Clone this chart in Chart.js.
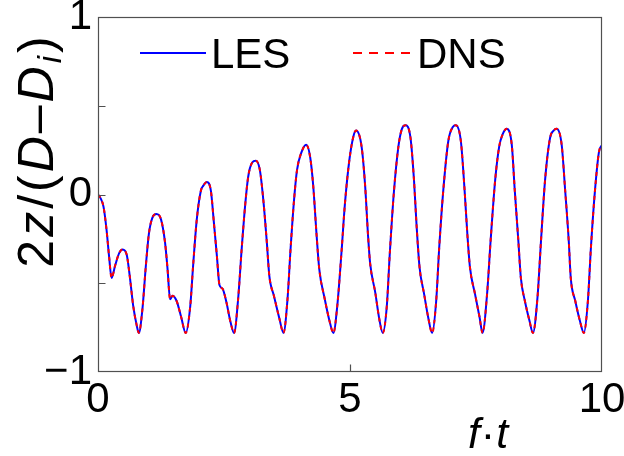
<!DOCTYPE html>
<html>
<head>
<meta charset="utf-8">
<script src="https://cdn.jsdelivr.net/npm/chart.js@4/dist/chart.umd.min.js"></script>
<style>
  html, body { margin: 0; padding: 0; background: #ffffff; }
  #wrap { width: 624px; height: 456px; }
</style>
</head>
<body>
<div id="wrap"><canvas id="c" width="624" height="456"></canvas></div>
<script>
// ---- data ----
const tValues = [
  0.00, 0.05, 0.11, 0.17, 0.22, 0.27, 0.34, 0.42, 0.49, 0.57, 0.63, 0.70, 0.77, 0.81,
  0.88, 0.95, 1.01, 1.08, 1.16, 1.25, 1.33, 1.38, 1.43, 1.48, 1.56, 1.65, 1.74,
  1.83, 1.89, 1.96, 2.04, 2.09, 2.16, 2.24, 2.30, 2.36, 2.41, 2.47, 2.55, 2.63, 2.70,
  2.78, 2.85, 2.92, 2.98, 3.06, 3.13, 3.21, 3.28, 3.35, 3.40, 3.49, 3.60, 3.68,
  3.76, 3.82, 3.89, 3.95, 4.04, 4.13, 4.21, 4.27, 4.34, 4.39, 4.50, 4.60, 4.67,
  4.75, 4.83, 4.90, 4.99, 5.07, 5.12, 5.23, 5.30, 5.36, 5.40, 5.50, 5.58, 5.65,
  5.73, 5.79, 5.87, 5.96, 6.03, 6.10, 6.20, 6.27, 6.32, 6.38, 6.47, 6.55, 6.63,
  6.71, 6.77, 6.85, 6.95, 7.04, 7.10, 7.20, 7.27, 7.33, 7.38, 7.48, 7.57, 7.63,
  7.72, 7.79, 7.88, 7.96, 8.03, 8.11, 8.21, 8.27, 8.34, 8.39, 8.47, 8.56, 8.63,
  8.72, 8.79, 8.87, 8.97, 9.04, 9.10, 9.20, 9.27, 9.34, 9.38, 9.47, 9.56, 9.64,
  9.72, 9.78, 9.86, 9.94, 10.00
];
const lesZ = [
  0.00, -0.02, -0.07, -0.20, -0.35, -0.47, -0.40, -0.33, -0.31, -0.34, -0.46, -0.63, -0.74, -0.78,
  -0.65, -0.40, -0.22, -0.13, -0.11, -0.14, -0.27, -0.42, -0.59, -0.57, -0.60, -0.69, -0.78,
  -0.63, -0.39, -0.14, 0.02, 0.05, 0.07, 0.02, -0.16, -0.35, -0.51, -0.53, -0.61, -0.72, -0.78,
  -0.59, -0.31, -0.06, 0.10, 0.18, 0.19, 0.14, -0.03, -0.27, -0.46, -0.57, -0.70, -0.78,
  -0.59, -0.31, -0.03, 0.14, 0.24, 0.28, 0.21, 0.05, -0.24, -0.42, -0.59, -0.72, -0.78,
  -0.62, -0.33, -0.05, 0.20, 0.33, 0.36, 0.27, 0.05, -0.24, -0.39, -0.55, -0.70, -0.78,
  -0.63, -0.33, 0.01, 0.27, 0.37, 0.39, 0.32, 0.08, -0.17, -0.41, -0.56, -0.69, -0.78,
  -0.60, -0.30, 0.02, 0.30, 0.38, 0.39, 0.30, 0.04, -0.23, -0.41, -0.56, -0.69, -0.78,
  -0.56, -0.26, 0.08, 0.27, 0.34, 0.37, 0.28, 0.02, -0.26, -0.47, -0.60, -0.71, -0.78,
  -0.58, -0.26, 0.08, 0.32, 0.36, 0.37, 0.28, 0.02, -0.26, -0.47, -0.60, -0.71, -0.78,
  -0.60, -0.30, 0.02, 0.24, 0.28
];
const dnsZ = [
  0.00, -0.02, -0.07, -0.20, -0.35, -0.47, -0.40, -0.33, -0.31, -0.34, -0.46, -0.63, -0.74, -0.78,
  -0.65, -0.40, -0.22, -0.13, -0.11, -0.14, -0.27, -0.42, -0.59, -0.57, -0.60, -0.69, -0.78,
  -0.63, -0.39, -0.14, 0.02, 0.05, 0.07, 0.02, -0.16, -0.35, -0.51, -0.53, -0.61, -0.72, -0.78,
  -0.59, -0.31, -0.06, 0.10, 0.18, 0.19, 0.14, -0.03, -0.27, -0.46, -0.57, -0.70, -0.78,
  -0.59, -0.31, -0.03, 0.14, 0.24, 0.28, 0.21, 0.05, -0.24, -0.42, -0.59, -0.72, -0.78,
  -0.62, -0.33, -0.05, 0.20, 0.33, 0.36, 0.27, 0.05, -0.24, -0.39, -0.55, -0.70, -0.78,
  -0.63, -0.33, 0.01, 0.27, 0.37, 0.39, 0.32, 0.08, -0.17, -0.41, -0.56, -0.69, -0.78,
  -0.60, -0.30, 0.02, 0.30, 0.38, 0.39, 0.30, 0.04, -0.23, -0.41, -0.56, -0.69, -0.78,
  -0.56, -0.26, 0.08, 0.27, 0.34, 0.37, 0.28, 0.02, -0.26, -0.47, -0.60, -0.71, -0.78,
  -0.58, -0.26, 0.08, 0.32, 0.36, 0.37, 0.28, 0.02, -0.26, -0.47, -0.60, -0.71, -0.78,
  -0.60, -0.30, 0.02, 0.24, 0.28
];
const seriesLabels = ['LES', 'DNS'];
const xTickValues = [0, 5, 10];
const yLabelValues = [-1, 0, 1];
const yTickMarks = [-0.5, 0, 0.5];
const xTickMarks = [5];

const FONT = '"Liberation Sans", Arial, sans-serif';

const decor = {
  id: 'decor',
  afterDraw(chart) {
    const ctx = chart.ctx;
    const a = chart.chartArea;
    const xs = chart.scales.x, ys = chart.scales.y;
    ctx.save();
    // frame
    ctx.strokeStyle = '#505050';
    ctx.lineWidth = 1.2;
    const L = Math.round(a.left) + 0.5, R = Math.round(a.right) - 0.5;
    const T = Math.round(a.top) + 0.5, B = Math.round(a.bottom) - 0.5;
    ctx.strokeRect(L, T, R - L, B - T);
    // inward ticks
    ctx.beginPath();
    yTickMarks.forEach(v => {
      const y = Math.round(ys.getPixelForValue(v)) + 0.5;
      ctx.moveTo(L, y); ctx.lineTo(L + 7, y);
    });
    xTickMarks.forEach(v => {
      const x = Math.round(xs.getPixelForValue(v)) + 0.5;
      ctx.moveTo(x, B); ctx.lineTo(x, B - 7);
    });
    ctx.stroke();

    // legend
    const ds = chart.data.datasets;
    const les = ds.find(d => d.label === 'LES');
    const dns = ds.find(d => d.label === 'DNS');
    ctx.lineWidth = 2;
    ctx.strokeStyle = les.borderColor;
    ctx.setLineDash([]);
    ctx.beginPath(); ctx.moveTo(140, 53); ctx.lineTo(206, 53); ctx.stroke();
    ctx.strokeStyle = dns.borderColor;
    ctx.setLineDash([9, 7]);
    ctx.beginPath(); ctx.moveTo(353, 53); ctx.lineTo(414, 53); ctx.stroke();
    ctx.setLineDash([]);
    ctx.fillStyle = '#000';
    ctx.font = '42px ' + FONT;
    ctx.textBaseline = 'alphabetic';
    ctx.textAlign = 'left';
    ctx.fillText(les.label, 211, 68);
    ctx.fillText(dns.label, 417, 68);

    // x title f·t
    const xParts = [
      {t: 'f', f: 'italic 43px ' + FONT},
      {t: '\u00B7', f: '43px ' + FONT},
      {t: 't', f: 'italic 43px ' + FONT}
    ];
    drawParts(ctx, xParts, 488, 448, 1);

    // y title 2z/(D−D_i)
    const s = 50;
    const yParts = [
      {t: '2', f: s + 'px ' + FONT},
      {t: 'z', f: 'italic ' + s + 'px ' + FONT},
      {t: '/', f: s + 'px ' + FONT},
      {t: '(', f: s + 'px ' + FONT},
      {t: 'D', f: 'italic ' + s + 'px ' + FONT},
      {t: '\u2013', f: s + 'px ' + FONT},
      {t: 'D', f: 'italic ' + s + 'px ' + FONT},
      {t: 'i', f: 'italic ' + Math.round(s * 0.65) + 'px ' + FONT, dy: 8},
      {t: ')', f: s + 'px ' + FONT}
    ];
    ctx.save();
    ctx.translate(53, 152);
    ctx.rotate(-Math.PI / 2);
    drawParts(ctx, yParts, 0, 0, 3);
    ctx.restore();
    ctx.restore();
  }
};

function drawParts(ctx, parts, cx, baseY, gap) {
  let w = 0;
  parts.forEach(p => { ctx.font = p.f; p.w = ctx.measureText(p.t).width; w += p.w; });
  w += gap * (parts.length - 1);
  let x = cx - w / 2;
  ctx.textAlign = 'left';
  ctx.textBaseline = 'alphabetic';
  ctx.fillStyle = '#000';
  parts.forEach(p => {
    ctx.font = p.f;
    ctx.fillText(p.t, x, baseY + (p.dy || 0));
    x += p.w + gap;
  });
}

const toPts = arr => tValues.map((t, i) => ({x: t, y: arr[i]}));

new Chart(document.getElementById('c'), {
  type: 'line',
  data: {
    datasets: [
      {
        label: seriesLabels[1], data: toPts(dnsZ), borderColor: '#ff0000',
        borderDash: [4, 4], borderWidth: 2, pointRadius: 0,
        cubicInterpolationMode: 'monotone', order: 0, fill: false
      },
      {
        label: seriesLabels[0], data: toPts(lesZ), borderColor: '#0000ff',
        borderWidth: 2, pointRadius: 0,
        cubicInterpolationMode: 'monotone', order: 1, fill: false
      }
    ]
  },
  options: {
    responsive: false,
    animation: false,
    devicePixelRatio: 1,
    layout: { padding: { top: 17, right: 22, left: 0, bottom: 0 } },
    plugins: { legend: { display: false }, tooltip: { enabled: false } },
    scales: {
      x: {
        type: 'linear', min: 0, max: 10,
        afterBuildTicks: s => { s.ticks = xTickValues.map(v => ({value: v})); },
        ticks: { font: { size: 42, family: FONT }, color: '#000', padding: 3, maxRotation: 0, autoSkip: false },
        grid: { display: false, drawTicks: false },
        border: { display: false },
        afterFit: s => { s.height = 84; s.paddingLeft = 0; s.paddingRight = 0; }
      },
      y: {
        type: 'linear', min: -1, max: 1,
        afterBuildTicks: s => { s.ticks = yLabelValues.map(v => ({value: v})); },
        ticks: {
          font: { size: 42, family: FONT }, color: '#000', padding: 6, autoSkip: false,
          callback: v => (v < 0 ? '\u2212' + Math.abs(v) : String(v))
        },
        grid: { display: false, drawTicks: false },
        border: { display: false },
        afterFit: s => { s.width = 98; s.paddingTop = 0; s.paddingBottom = 0; }
      }
    }
  },
  plugins: [decor]
});
</script>
</body>
</html>
